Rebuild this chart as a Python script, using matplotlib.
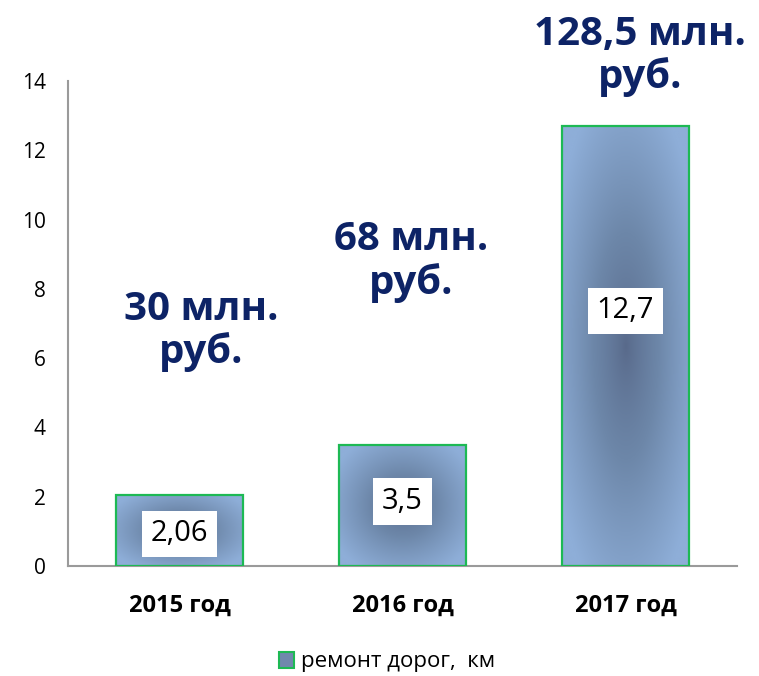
import numpy as np
import matplotlib
matplotlib.use("Agg")
import matplotlib.pyplot as plt
from matplotlib.patches import Rectangle
from matplotlib.colors import LinearSegmentedColormap

plt.rcParams['font.family'] = ['Open Sans', 'DejaVu Sans']

categories = ["2015 год", "2016 год", "2017 год"]
values = [2.06, 3.5, 12.7]
value_labels = ["2,06", "3,5", "12,7"]
money_labels = ["30 млн.\nруб.", "68 млн.\nруб.", "128,5 млн.\nруб."]
legend_label = "ремонт дорог,  км"
yticks = [0, 2, 4, 6, 8, 10, 12, 14]

fig = plt.figure(figsize=(7.59, 6.76), dpi=100)
ax = fig.add_axes([68/759, 1-566/676, (737-68)/759, (566-81)/676])
ax.set_xlim(-0.5, 2.5)
ax.set_ylim(0, 14)

cmap = LinearSegmentedColormap.from_list("g", ["#58698a", "#6d87a9", "#8eaed8"])
width = 0.57
x = np.arange(len(categories))
bars = ax.bar(x, values, width=width, facecolor="none", edgecolor="#1db954", linewidth=1.6, zorder=3)
for b in bars:
    x0, y0 = b.get_x(), b.get_y()
    w, h = b.get_width(), b.get_height()
    nx, ny = 120, max(60, int(120 * h / 2))
    xx, yy = np.meshgrid(np.linspace(-1, 1, nx), np.linspace(-1, 1, ny))
    r = np.sqrt(xx**2 + yy**2) / np.sqrt(2)
    r = np.clip(r * 1.15, 0, 1) ** 0.8
    im = ax.imshow(r, cmap=cmap, extent=[x0, x0 + w, y0, y0 + h], origin="lower",
                   aspect="auto", zorder=2, vmin=0, vmax=1, interpolation="bilinear")
    im.set_clip_path(b)

label_frac = [0.45, 0.53, 0.58]
for xi, v, lab, fr in zip(x, values, value_labels, label_frac):
    ax.text(xi, v * fr, lab, ha="center", va="center", fontsize=21, color="black", zorder=5,
            bbox=dict(boxstyle="square,pad=0.3", facecolor="white", edgecolor="none"))

money_pos = [(0.096, 6.78), (0.038, 8.78), (0.065, 14.72)]
for xi, lab, (dx, yy) in zip(x, money_labels, money_pos):
    ax.text(xi + dx, yy, lab, ha="center", va="center", fontsize=29, fontweight="bold",
            color="#0d2366", linespacing=1.12, zorder=5, clip_on=False)

ax.set_xticks(x)
ax.set_xticklabels(categories, fontsize=17, fontweight="bold")
ax.set_yticks(yticks)
ax.set_yticklabels([str(t) for t in yticks], fontsize=15)
ax.tick_params(axis="both", length=0)
ax.tick_params(axis="x", pad=20)
ax.tick_params(axis="y", pad=16)
for s in ["top", "right"]:
    ax.spines[s].set_visible(False)
for s in ["left", "bottom"]:
    ax.spines[s].set_color("#9a9a9a")
    ax.spines[s].set_linewidth(1.5)

handle = Rectangle((0, 0), 1, 1, facecolor="#7088ad", edgecolor="#1db954", linewidth=1.5)
fig.legend([handle], [legend_label], loc="center", bbox_to_anchor=(387/759, 1-662/676),
           frameon=False, fontsize=16, handlelength=0.7, handleheight=0.7, handletextpad=0.3)

fig.savefig("out.png", dpi=100)
